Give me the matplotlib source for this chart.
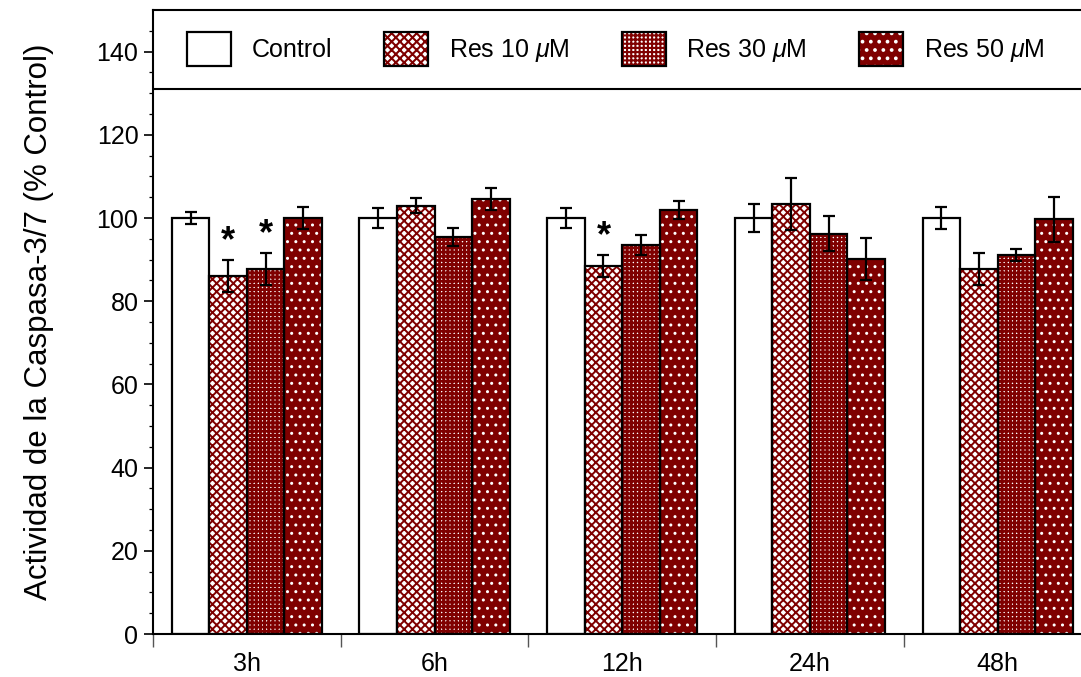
import numpy as np
import matplotlib
matplotlib.use("Agg")
import matplotlib.pyplot as plt
from matplotlib.ticker import FixedLocator
from matplotlib.legend_handler import HandlerTuple

plt.rcParams['font.family'] = ['Liberation Sans', 'DejaVu Sans']
plt.rcParams['mathtext.fontset'] = 'custom'
plt.rcParams['mathtext.it'] = 'Liberation Sans:italic'
plt.rcParams['mathtext.rm'] = 'Liberation Sans'
plt.rcParams['hatch.linewidth'] = 1.5

##### data #####
times = ['3h', '6h', '12h', '24h', '48h']
series = ['Control', r'Res 10 $\mu$M', r'Res 30 $\mu$M', r'Res 50 $\mu$M']

control = [100.0, 100.0, 100.0, 100.0, 100.0]
res10 = [86.0, 103.0, 88.5, 103.3, 87.7]
res30 = [87.8, 95.4, 93.5, 96.2, 91.1]
res50 = [100.0, 104.5, 101.9, 90.1, 99.7]

control_err = [1.4, 2.3, 2.5, 3.4, 2.7]
res10_err = [3.9, 1.8, 2.6, 6.3, 3.9]
res30_err = [3.8, 2.1, 2.3, 4.2, 1.5]
res50_err = [2.7, 2.6, 2.2, 5.1, 5.4]

# significance marks: (time index, series index)
signif = [(0, 1), (0, 2), (2, 1)]

values = [control, res10, res30, res50]
errors = [control_err, res10_err, res30_err, res50_err]

# styles: face colour, hatch, hatch colour, hatch linewidth
dark = '#7f0000'
styles = [
    ('white', None, None, 1.0),
    ('white', 'xxxx', dark, 1.4),
    ('white', '++++', dark, 2.0),
    (dark, '..', 'white', 1.0),
]

##### figure #####
fig = plt.figure(figsize=(10.81, 6.77), dpi=100)
ax = fig.add_axes([153 / 1081, 43 / 677, 928 / 1081, 624 / 677])

bw = 0.2
x = np.arange(len(times)) + 0.5
handles = []
for i, (vals, errs) in enumerate(zip(values, errors)):
    pos = x + (i - 1.5) * bw
    face, hatch, hcol, hlw = styles[i]
    if hatch is None:
        b = ax.bar(pos, vals, bw, color=face, edgecolor='black', linewidth=1.6, zorder=2)
        handles.append(b[0])
    else:
        b1 = ax.bar(pos, vals, bw, color=face, edgecolor=hcol, linewidth=0, hatch=hatch, zorder=2)
        for p in b1:
            if hasattr(p, 'set_hatch_linewidth'):
                p.set_hatch_linewidth(hlw)
        b2 = ax.bar(pos, vals, bw, fill=False, edgecolor='black', linewidth=1.6, zorder=2.5)
        handles.append((b1[0], b2[0]))
    ax.errorbar(pos, vals, yerr=errs, fmt='none', ecolor='black', elinewidth=1.6,
                capsize=4.3, capthick=1.6, zorder=3)

for t, s in signif:
    xs = x[t] + (s - 1.5) * bw
    ys = values[s][t] + errors[s][t] + 0.3
    ax.text(xs, ys, '*', ha='center', va='bottom', fontsize=26, fontweight='bold')

##### axes #####
ax.set_xlim(0, 928 / 187.7)
ax.set_ylim(0, 150)

ax.spines['right'].set_visible(False)
for sp in ['left', 'bottom', 'top']:
    ax.spines[sp].set_linewidth(1.5)
ax.axhline(131, color='black', linewidth=1.5, zorder=4)

ax.yaxis.set_major_locator(FixedLocator(np.arange(0, 141, 20)))
ax.yaxis.set_minor_locator(FixedLocator(np.arange(0, 150, 5)))
ax.tick_params(axis='y', which='major', direction='out', length=6.5, width=1.2,
               labelsize=18, pad=4)
ax.tick_params(axis='y', which='minor', direction='out', length=3, width=0.9)

ax.xaxis.set_major_locator(FixedLocator(np.arange(0, 5)))
ax.xaxis.set_minor_locator(FixedLocator(x))
ax.set_xticklabels([], minor=False)
ax.set_xticklabels(times, minor=True)
ax.tick_params(axis='x', which='major', direction='out', length=9.4, width=1.0,
               color='#555555')
ax.tick_params(axis='x', which='minor', length=0, labelsize=18, pad=13)

ax.set_ylabel('Actividad de la Caspasa-3/7 (% Control)', fontsize=22.5)
ax.yaxis.set_label_coords(-0.107, 0.5)

leg = ax.legend(handles, series, loc='center left', bbox_to_anchor=(34 / 928, 140.6 / 150),
                ncol=4, frameon=False, fontsize=18, handlelength=1.76, handleheight=1.76,
                handletextpad=0.83, columnspacing=2.08, borderpad=0, borderaxespad=0,
                handler_map={tuple: HandlerTuple(ndivide=1, pad=0)})

fig.savefig('out.png', dpi=100)
